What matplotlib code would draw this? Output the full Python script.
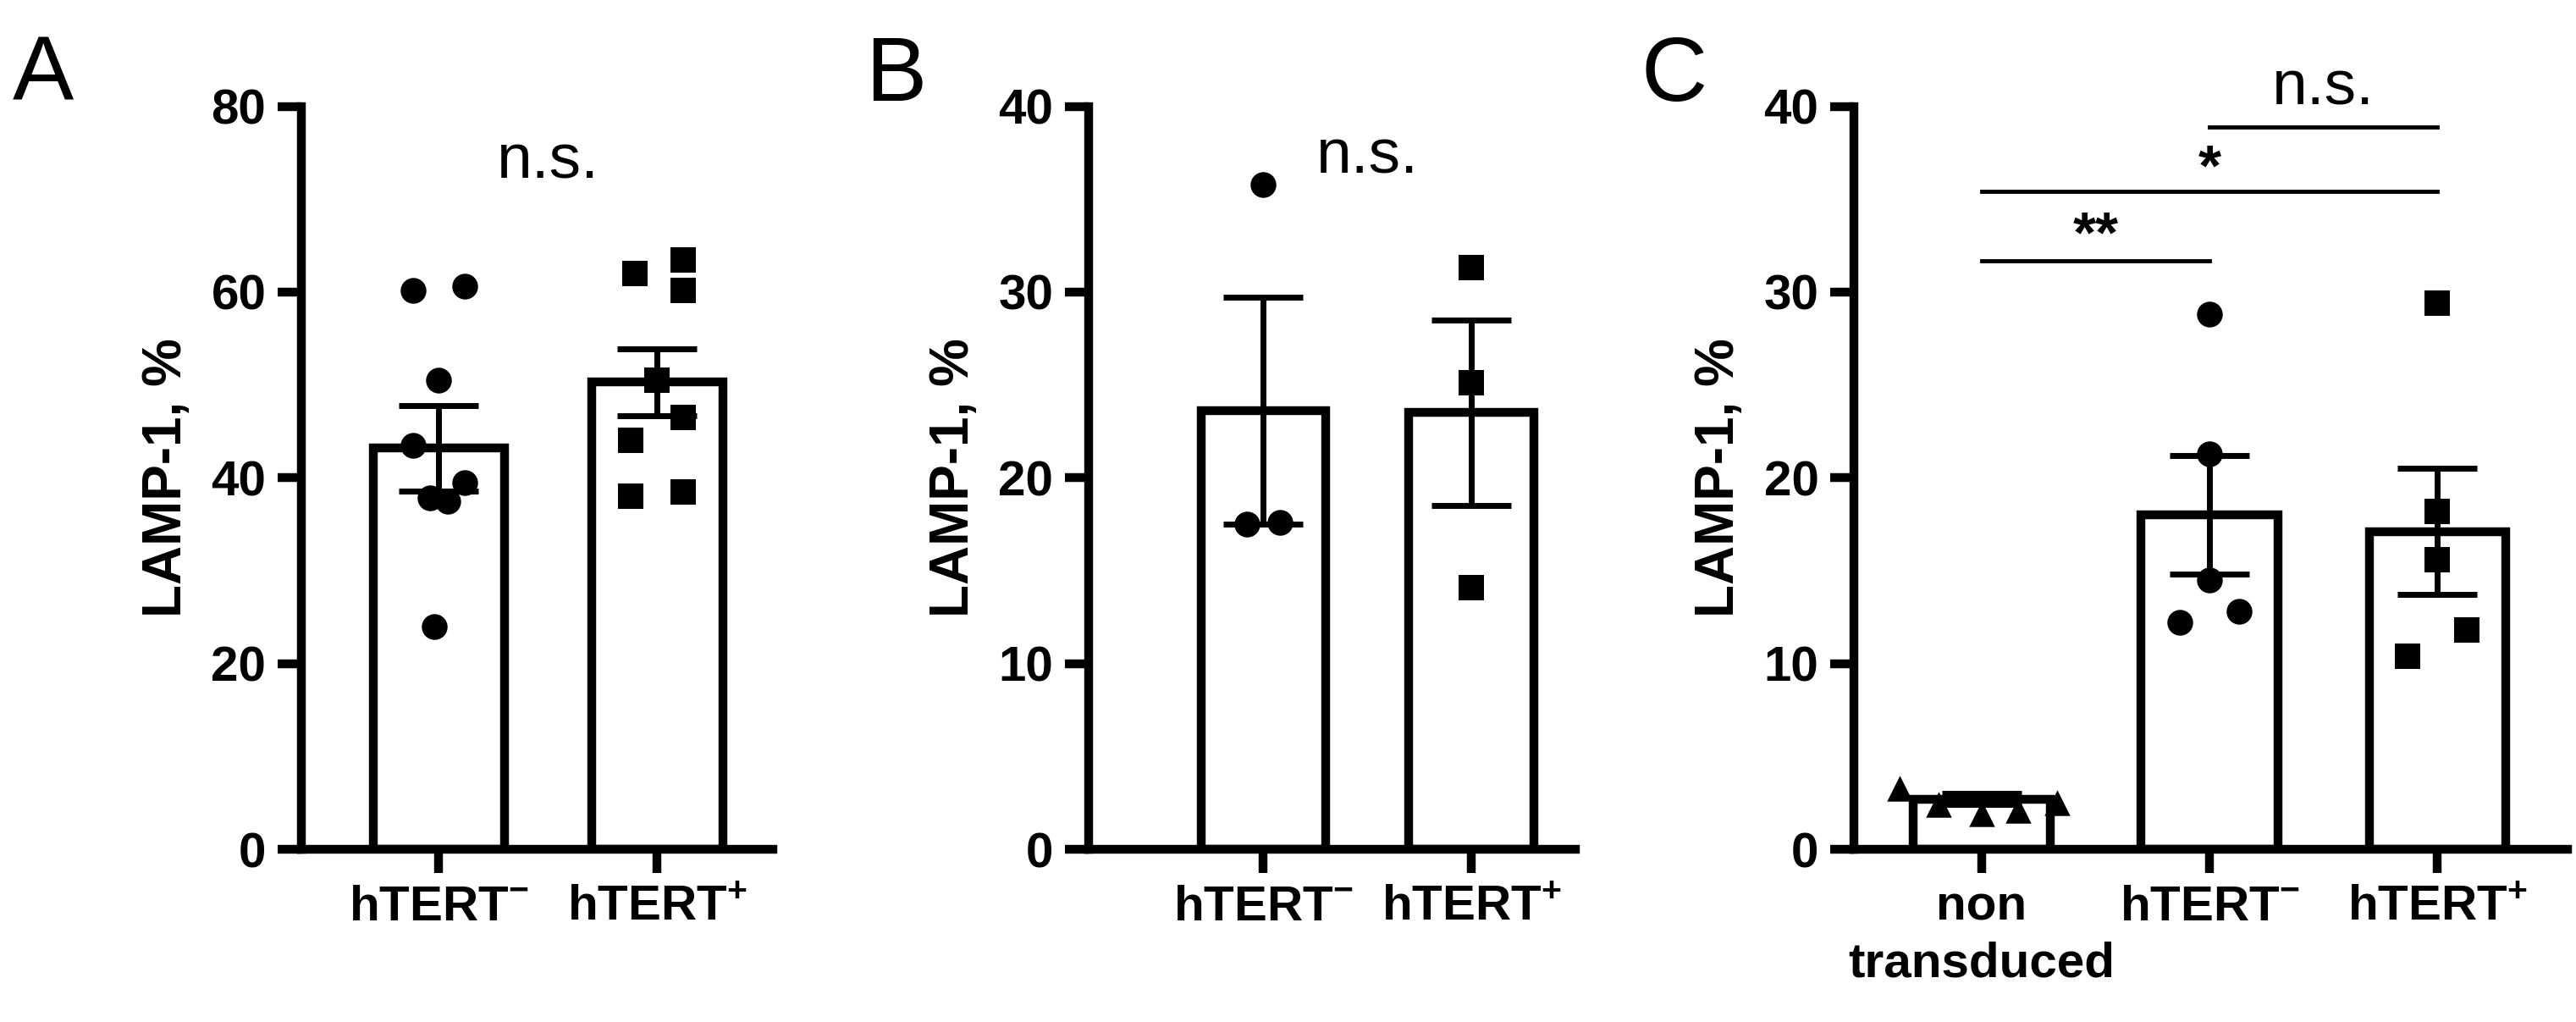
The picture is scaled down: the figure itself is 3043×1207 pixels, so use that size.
import numpy as np
import matplotlib
matplotlib.use("Agg")
import matplotlib.pyplot as plt

plt.rcParams['font.family'] = ['Liberation Sans', 'DejaVu Sans']
plt.rcParams['font.weight'] = 'bold'
plt.rcParams['mathtext.fontset'] = 'custom'
plt.rcParams['mathtext.bf'] = 'Liberation Sans:bold'
plt.rcParams['mathtext.rm'] = 'Liberation Sans:bold'

# Panel A
a_labels = [r'hTERT$^{-}$', r'hTERT$^{+}$']
a_means = [43.2, 50.3]
a_sem = [4.6, 3.6]
a_points = [[60.2, 60.6, 50.5, 43.5, 39.5, 37.5, 37.8, 24.0],
            [62.0, 63.5, 60.2, 50.5, 46.5, 44.0, 38.0, 38.5]]
a_jitter = [[-0.12, 0.12, 0.0, -0.12, 0.12, 0.04, -0.04, -0.02],
            [-0.1, 0.12, 0.12, 0.0, 0.12, -0.12, -0.12, 0.12]]

# Panel B
b_labels = [r'hTERT$^{-}$', r'hTERT$^{+}$']
b_means = [23.6, 23.5]
b_sem = [6.1, 5.0]
b_points = [[35.8, 17.5, 17.6], [31.3, 25.1, 14.1]]
b_jitter = [[0.0, -0.08, 0.08], [0.0, 0.0, 0.0]]

# Panel C
c_labels = ['non\ntransduced', r'hTERT$^{-}$', r'hTERT$^{+}$']
c_means = [2.7, 18.0, 17.1]
c_sem = [0.3, 3.2, 3.4]
c_points = [[3.3, 2.4, 1.9, 2.1, 2.5],
            [28.8, 21.3, 14.5, 12.8, 12.2],
            [29.4, 18.2, 15.6, 11.8, 10.4]]
c_jitter = [[-0.36, -0.19, 0.0, 0.16, 0.33],
            [0.0, 0.0, 0.0, 0.13, -0.13],
            [0.0, 0.0, 0.0, 0.13, -0.13]]

LW = 7.5
FS = 42
fig = plt.figure(figsize=(30.43, 12.07), dpi=100)


def panel(rect, labels, means, sem, points, jitter, markers, ymax, step, xlim, letter, letter_x):
    ax = fig.add_axes(rect)
    x = np.arange(len(means))
    ax.bar(x, means, width=0.6, facecolor='white', edgecolor='black', linewidth=LW, zorder=1)
    for i in x:
        ax.errorbar(i, means[i], yerr=sem[i], color='black', capsize=34, capthick=5,
                    elinewidth=5, zorder=2)
        ax.scatter(i + np.array(jitter[i]), points[i], marker=markers[i], s=480,
                   color='black', zorder=3, linewidths=0)
    ax.set_xlim(*xlim)
    ax.set_ylim(0, ymax)
    ax.set_yticks(np.arange(0, ymax + 1, step))
    ax.set_xticks(x)
    ax.set_xticklabels(labels, fontsize=FS, fontweight='bold', linespacing=1.3)
    ax.tick_params(axis='y', labelsize=FS, width=LW, length=20, pad=10)
    ax.tick_params(axis='x', width=LW, length=20, pad=10)
    for t in ax.get_yticklabels():
        t.set_fontweight('bold')
    for s in ['top', 'right']:
        ax.spines[s].set_visible(False)
    for s in ['left', 'bottom']:
        ax.spines[s].set_linewidth(LW)
    ax.set_ylabel('LAMP-1, %', fontsize=46, fontweight='bold', labelpad=16)
    fig.text(letter_x, 0.925, letter, fontsize=78, ha='left', va='center', fontweight='normal')
    return ax


axa = panel([0.117, 0.169, 0.183, 0.727], a_labels, a_means, a_sem, a_points, a_jitter,
            ['o', 's'], 80, 20, (-0.63, 1.53), 'A', 0.005)
axa.text(0.5, 74, 'n.s.', ha='center', va='center', fontsize=54, fontweight='normal')

axb = panel([0.4226, 0.169, 0.189, 0.727], b_labels, b_means, b_sem, b_points, b_jitter,
            ['o', 's'], 40, 10, (-0.84, 1.5), 'B', 0.336)
axb.text(0.5, 37.3, 'n.s.', ha='center', va='center', fontsize=54, fontweight='normal')

axc = panel([0.7197, 0.169, 0.277, 0.727], c_labels, c_means, c_sem, c_points, c_jitter,
            ['^', 'o', 's'], 40, 10, (-0.56, 2.57), 'C', 0.637)
for x0, x1, y, txt, dy in [(0.0, 1.0, 31.7, '**', 1.3), (0.0, 2.0, 35.4, '*', 1.2),
                           (1.0, 2.0, 38.9, 'n.s.', 2.1)]:
    axc.plot([x0, x1], [y, y], color='black', lw=3.5, clip_on=False)
    axc.text((x0 + x1) / 2, y + dy, txt, ha='center', va='center',
             fontsize=54 if txt == 'n.s.' else 50,
             fontweight='normal' if txt == 'n.s.' else 'bold')

fig.savefig('out.png', dpi=100)
